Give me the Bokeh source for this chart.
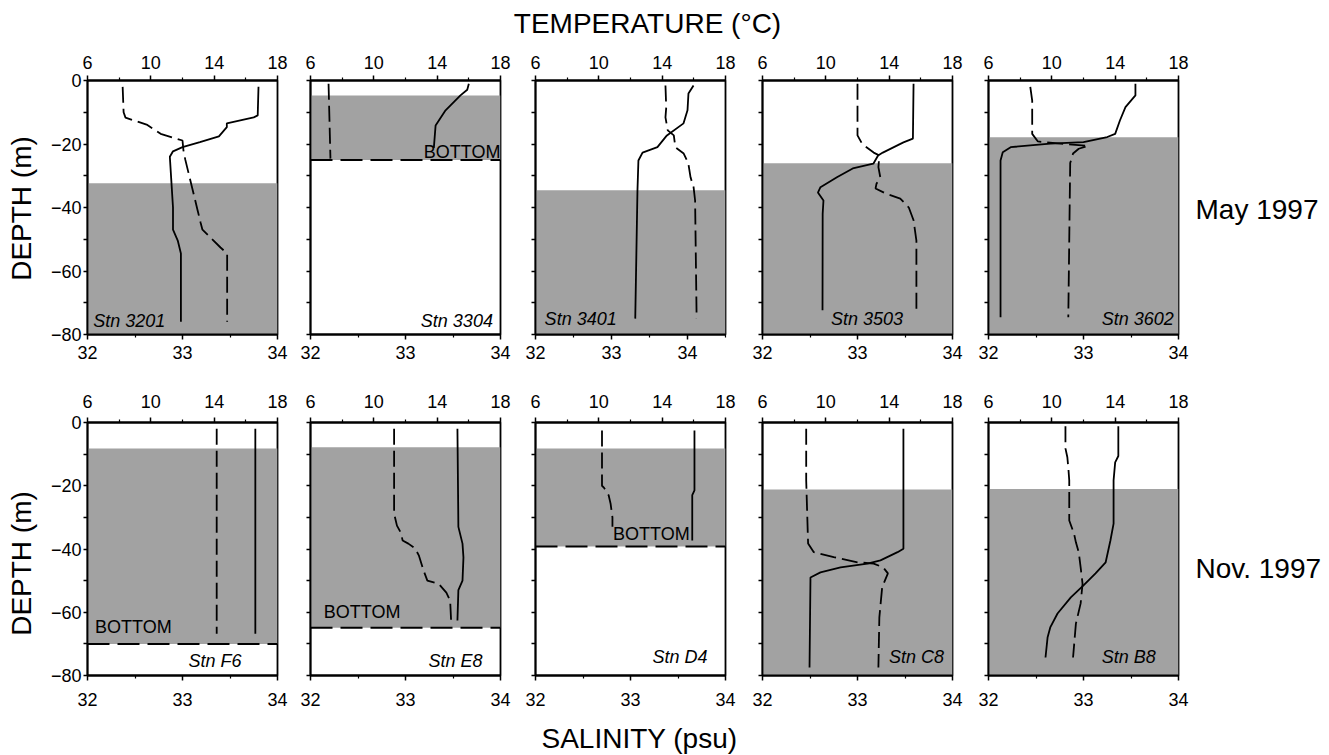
import math
from bokeh.plotting import figure
from bokeh.models import Range1d, LinearAxis, FixedTicker
from bokeh.layouts import column, row
from bokeh.embed import file_html
from bokeh.resources import INLINE
from bokeh.core.properties import value

FONT = "Liberation Sans"

# ------------------------------------------------------------------ data
temp_ticks = [6, 10, 14, 18]
temp_minor = [8, 12, 16]
sal_ticks = [32, 33, 34]
sal_minor = [32.5, 33.5, 34.5]
depth_ticks = [0, -20, -40, -60, -80]
depth_minor = [-10, -30, -50, -70]
depth_all = [0, -10, -20, -30, -40, -50, -60, -70, -80]
depth_tick_labels = ["0", "\u221220", "\u221240", "\u221260", "\u221280"]

temp_title = "TEMPERATURE (\u00b0C)"
sal_title = "SALINITY (psu)"
depth_title = "DEPTH (m)"
row_labels = ["May 1997", "Nov. 1997"]
stations_may = ["Stn 3201", "Stn 3304", "Stn 3401", "Stn 3503", "Stn 3602"]
stations_nov = ["Stn F6", "Stn E8", "Stn D4", "Stn C8", "Stn B8"]
sal_max = [[34, 34, 34.5, 34, 34], [34, 34, 34, 34, 34]]

# Stn 3201
s3201_td = [-2, -11, -11.6, -13.5, -14.7, -17.6, -19.4, -21, -22.3, -24, -32, -40, -47, -50.4, -54.5, -76]
s3201_t = [16.8, 16.75, 16.5, 14.8, 14.8, 14.3, 13.1, 12.0, 11.4, 11.2, 11.3, 11.4, 11.4, 11.7, 11.9, 11.9]
s3201_sd = [-2, -10, -11.7, -14, -16.8, -18.9, -22, -25, -33.6, -41, -44.7, -47, -52.6, -54.5, -76]
s3201_s = [32.37, 32.38, 32.40, 32.63, 32.77, 33.0, 33.01, 33.03, 33.1, 33.16, 33.19, 33.21, 33.40, 33.47, 33.47]
s3201_shade = [-32.4, -80]
s3201_bottom = None

# Stn 3304
s3304_td = [-1, -2.9, -4.7, -9.4, -14.2, -21.2]
s3304_t = [16.0, 15.9, 15.47, 14.53, 13.9, 13.79]
s3304_sd = [-1, -24.6]
s3304_s = [32.19, 32.21]
s3304_shade = [-4.7, -25]
s3304_bottom = -25

# Stn 3401
s3401_td = [-1.6, -4.1, -9.4, -13.5, -17.3, -21, -22.7, -25.2, -34.6, -75]
s3401_t = [15.98, 15.66, 15.6, 15.35, 14.3, 13.7, 12.76, 12.5, 12.44, 12.3]
s3401_sd = [-1.6, -8.5, -11.6, -15.7, -17.3, -21, -23, -26, -30.5, -33.6, -37.8, -75]
s3401_s = [33.71, 33.72, 33.71, 33.74, 33.82, 33.84, 33.95, 34.01, 34.04, 34.08, 34.1, 34.12]
s3401_shade = [-34.6, -80]
s3401_bottom = None

# Stn 3503
s3503_td = [-1, -18.3, -19.5, -22.7, -23.6, -26.2, -27.7, -30.5, -33.6, -35.3, -37.8, -42, -72.4]
s3503_t = [15.54, 15.5, 14.9, 13.6, 13.3, 13.0, 11.7, 10.7, 9.66, 9.5, 9.85, 9.8, 9.79]
s3503_sd = [-1, -17.3, -20, -22.7, -23.6, -27.3, -30.5, -32.5, -34, -35.5, -37.2, -40, -44, -50.4, -73.4]
s3503_s = [33.0, 33.0, 33.05, 33.17, 33.23, 33.22, 33.24, 33.2, 33.19, 33.29, 33.45, 33.54, 33.59, 33.62, 33.62]
s3503_shade = [-26.1, -80]
s3503_bottom = None

# Stn 3602
s3602_td = [-1, -4.7, -8.4, -12.6, -16.8, -17.8, -19.4, -19.9, -21, -22.6, -25.2, -74.6]
s3602_t = [15.28, 15.28, 14.65, 14.3, 14.0, 13.5, 12.0, 9.9, 7.4, 6.9, 6.76, 6.76]
s3602_sd = [-2, -6.3, -16.8, -19.2, -20, -20.6, -21.5, -23, -26, -74.6]
s3602_s = [32.44, 32.46, 32.46, 32.52, 32.8, 33.05, 32.95, 32.89, 32.86, 32.84]
s3602_shade = [-17.9, -80]
s3602_bottom = None

# Stn F6
sF6_td = [-2, -66.8]
sF6_t = [16.6, 16.6]
sF6_sd = [-2, -66.8]
sF6_s = [33.36, 33.36]
sF6_shade = [-8.2, -70]
sF6_bottom = -70

# Stn E8
sE8_td = [-2, -33, -38.3, -42.7, -50, -53, -62.6]
sE8_t = [15.28, 15.34, 15.6, 15.66, 15.6, 15.34, 15.28]
sE8_sd = [-2, -28.8, -32.6, -34.8, -37.3, -38.3, -39.8, -42, -46.8, -50, -51, -53.8, -56.3, -62.6]
sE8_s = [32.88, 32.88, 32.91, 32.95, 32.97, 33.03, 33.1, 33.14, 33.19, 33.23, 33.35, 33.43, 33.47, 33.48]
sE8_shade = [-7.8, -64.9]
sE8_bottom = -64.9

# Stn D4
sD4_td = [-2.5, -21.5, -23, -37.3]
sD4_t = [16.04, 16.04, 15.9, 15.9]
sD4_sd = [-2.5, -20, -20.6, -23, -25.6, -30, -33]
sD4_s = [32.70, 32.70, 32.72, 32.77, 32.79, 32.81, 32.81]
sD4_shade = [-8.2, -39.2]
sD4_bottom = -39.2

# Stn C8
sC8_td = [-2, -39.9, -41, -43.6, -44.6, -45.8, -47.4, -49, -77.5]
sC8_t = [14.9, 14.9, 14.53, 13.45, 12.63, 10.93, 9.66, 9.03, 8.97]
sC8_sd = [-2, -18.3, -38.3, -41, -42.6, -44.2, -44.6, -45.8, -47.7, -52, -61.6, -77.5]
sC8_s = [32.46, 32.46, 32.48, 32.54, 32.75, 33.0, 33.17, 33.27, 33.32, 33.26, 33.23, 33.22]
sC8_shade = [-21.2, -80]
sC8_bottom = None

# Stn B8
sB8_td = [-1.2, -10.6, -12.6, -18.3, -32, -37.3, -44.2, -47.7, -51.5, -55.3, -60.4, -64.8, -68, -74.3]
sB8_t = [14.2, 14.2, 14.0, 13.9, 13.9, 13.7, 13.4, 12.76, 12.0, 11.2, 10.36, 9.9, 9.73, 9.6]
sB8_sd = [-1.2, -8.2, -11, -14.2, -18.3, -31, -35.1, -37.9, -41, -45.8, -51, -57.2, -63.6, -74.3]
sB8_s = [32.81, 32.81, 32.83, 32.84, 32.85, 32.85, 32.9, 32.92, 32.95, 32.97, 32.99, 32.97, 32.92, 32.89]
sB8_shade = [-21, -80]
sB8_bottom = None

profiles = [
    [(s3201_td, s3201_t, s3201_sd, s3201_s, s3201_shade, s3201_bottom),
     (s3304_td, s3304_t, s3304_sd, s3304_s, s3304_shade, s3304_bottom),
     (s3401_td, s3401_t, s3401_sd, s3401_s, s3401_shade, s3401_bottom),
     (s3503_td, s3503_t, s3503_sd, s3503_s, s3503_shade, s3503_bottom),
     (s3602_td, s3602_t, s3602_sd, s3602_s, s3602_shade, s3602_bottom)],
    [(sF6_td, sF6_t, sF6_sd, sF6_s, sF6_shade, sF6_bottom),
     (sE8_td, sE8_t, sE8_sd, sE8_s, sE8_shade, sE8_bottom),
     (sD4_td, sD4_t, sD4_sd, sD4_s, sD4_shade, sD4_bottom),
     (sC8_td, sC8_t, sC8_sd, sC8_s, sC8_shade, sC8_bottom),
     (sB8_td, sB8_t, sB8_sd, sB8_s, sB8_shade, sB8_bottom)],
]
station_names = [stations_may, stations_nov]

# ------------------------------------------------------------------ layout / style (not data)
LEFT_W, RIGHT_W = 40, 135
TOP_H, BOT_H = 42, 39
TOTAL_H = 754
WIDTHS = [252, 223, 225, 227, 223]
LEFTS = [47, 18, 20, 22, 21]
RIGHTS = [15, 15, 15, 15, 12]
TOPS = [38, 44]
BOTTOMS = [44, 40]
FRAME_H = [254, 253]
HEIGHTS = [TOPS[i] + FRAME_H[i] + BOTTOMS[i] for i in range(2)]
MID_W = sum(WIDTHS)
TOP_STANDOFF = [7, 10]
BOTTOM_STANDOFF = [6, 12]
SHADE = "#a2a2a2"
TICK_FS = "18px"
BIG_FS = "28px"
LW = 1.8

stn_pos = [
    [(32.06, -75.6, "left"), (33.92, -75.6, "right"), (32.12, -75.0, "left"), (33.48, -75.0, "right"), (33.95, -75.0, "right")],
    [(33.62, -75.3, "right"), (33.81, -75.3, "right"), (33.81, -74.0, "right"), (33.91, -74.0, "right"), (33.76, -74.0, "right")],
]
bottom_pos = [
    [None, (34.0, -22.4, "right"), None, None, None],
    [(32.08, -64.8, "left"), (32.14, -60.0, "left"), (33.22, -35.1, "center"), None, None],
]


def style_axis(ax, standoff):
    ax.axis_line_color = "black"
    ax.axis_line_width = LW
    ax.major_tick_line_color = "black"
    ax.major_tick_line_width = 1.5
    ax.major_tick_out = 5
    ax.major_tick_in = 0
    ax.minor_tick_line_color = "black"
    ax.minor_tick_line_width = 1.2
    ax.minor_tick_out = 3
    ax.minor_tick_in = 0
    ax.major_label_text_font = FONT
    ax.major_label_text_font_size = TICK_FS
    ax.major_label_text_color = "black"
    ax.major_label_standoff = standoff


def strip(w, h):
    s = figure(width=w, height=h, x_range=Range1d(0, w), y_range=Range1d(0, h),
               output_backend="svg", toolbar_location=None,
               x_axis_location=None, y_axis_location=None,
               min_border_left=0, min_border_right=0, min_border_top=0, min_border_bottom=0,
               background_fill_color="white", border_fill_color="white")
    s.outline_line_color = None
    s.xgrid.visible = False
    s.ygrid.visible = False
    return s


def strip_text(s, x, y, txt, align="center", angle=0.0):
    s.text(x=[x], y=[y], text=[txt], text_font=value(FONT), text_font_size=BIG_FS,
           text_color="black", text_align=align, text_baseline="middle", angle=angle)


rows = []
for ri in range(2):
    figs = []
    for ci in range(5):
        td, t, sd, s, shade, bdep = profiles[ri][ci]
        smax = sal_max[ri][ci]
        p = figure(width=WIDTHS[ci], height=HEIGHTS[ri],
                   x_range=Range1d(32, smax), y_range=Range1d(-80, 0),
                   output_backend="svg", toolbar_location=None,
                   min_border_left=LEFTS[ci], min_border_right=RIGHTS[ci],
                   min_border_top=TOPS[ri], min_border_bottom=BOTTOMS[ri],
                   background_fill_color="white", border_fill_color="white")
        p.extra_x_ranges = {"temp": Range1d(6, 18)}
        p.xgrid.visible = False
        p.ygrid.visible = False
        p.outline_line_color = "black"
        p.outline_line_width = LW
        p.outline_line_alpha = 1

        bx = p.below[0]
        bx.ticker = FixedTicker(ticks=sal_ticks, minor_ticks=sal_minor)
        style_axis(bx, BOTTOM_STANDOFF[ri])

        ly = p.left[0]
        if ci == 0:
            ly.ticker = FixedTicker(ticks=depth_ticks, minor_ticks=depth_minor)
            ly.major_label_overrides = {k: v for k, v in zip(depth_ticks, depth_tick_labels)}
        else:
            ly.ticker = FixedTicker(ticks=[], minor_ticks=depth_all)
        style_axis(ly, 2)
        ly.major_tick_out = 4
        ly.minor_tick_out = 4
        ly.minor_tick_line_width = 1.5

        top = LinearAxis(x_range_name="temp",
                         ticker=FixedTicker(ticks=temp_ticks, minor_ticks=temp_minor))
        style_axis(top, TOP_STANDOFF[ri])
        p.add_layout(top, "above")

        p.quad(left=[32], right=[smax], top=[shade[0]], bottom=[shade[1]],
               fill_color=SHADE, line_color=None)
        if bdep is not None:
            p.line(x=[32, smax], y=[bdep, bdep], line_color="black", line_width=2,
                   line_dash="22 8")

        p.line(x=t, y=td, x_range_name="temp", line_color="black", line_width=1.8)
        p.line(x=s, y=sd, line_color="black", line_width=1.8, line_dash="16 6")

        sx, sy, sa = stn_pos[ri][ci]
        p.text(x=[sx], y=[sy], text=[station_names[ri][ci]], text_font=value(FONT),
               text_font_style="italic", text_font_size="18px", text_color="black",
               text_align=sa, text_baseline="middle")
        bp = bottom_pos[ri][ci]
        if bp is not None:
            p.text(x=[bp[0]], y=[bp[1]], text=["BOTTOM"], text_font=value(FONT),
                   text_font_size="18px", text_color="black",
                   text_align=bp[2], text_baseline="middle")
        figs.append(p)
    rows.append(figs)

# text strips (page coordinates converted to strip coordinates)
top_strip = strip(MID_W, TOP_H)
strip_text(top_strip, 647 - LEFT_W, TOP_H - 23, temp_title)
bot_strip = strip(MID_W, BOT_H)
strip_text(bot_strip, 639 - LEFT_W, TOTAL_H - 738, sal_title)
left_strip = strip(LEFT_W, TOTAL_H)
strip_text(left_strip, 21, TOTAL_H - 208, depth_title, angle=math.pi / 2)
strip_text(left_strip, 21, TOTAL_H - 563, depth_title, angle=math.pi / 2)
right_strip = strip(RIGHT_W, TOTAL_H)
x0_right = LEFT_W + MID_W
strip_text(right_strip, 1195 - x0_right, TOTAL_H - 209, row_labels[0], align="left")
strip_text(right_strip, 1195 - x0_right, TOTAL_H - 568, row_labels[1], align="left")

middle = column(top_strip, row(*rows[0], spacing=0), row(*rows[1], spacing=0), bot_strip, spacing=0)
layout = row(left_strip, middle, right_strip, spacing=0)
open("out.html", "w").write(file_html(layout, INLINE))
